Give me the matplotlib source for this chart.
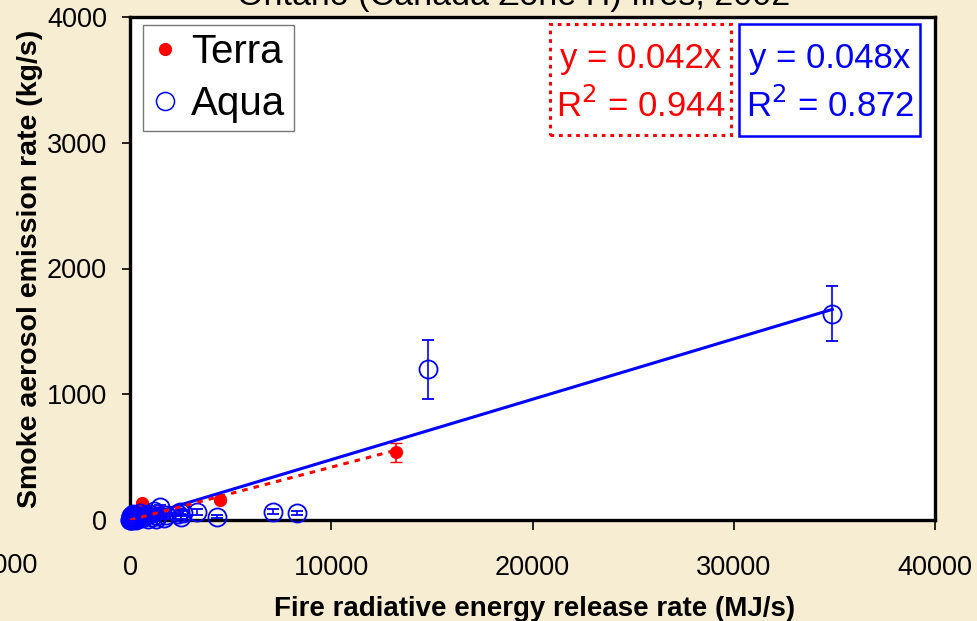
import numpy as np
import matplotlib
matplotlib.use("Agg")
import matplotlib.pyplot as plt
from matplotlib.lines import Line2D
from matplotlib.patches import Rectangle

plt.rcParams['font.family'] = ['Liberation Sans', 'DejaVu Sans']

# Terra retrievals: FRE rate (MJ/s), smoke emission rate (kg/s), error
terra_fre = [13200, 4470, 600, 1500, 1100, 900, 500, 300, 150, 80, 40, 700]
terra_rate = [540, 160, 135, 60, 40, 70, 25, 15, 50, 10, 5, 45]
terra_err = [75, 20, 15, 10, 10, 10, 8, 5, 10, 3, 2, 8]

# Aqua retrievals
aqua_fre = [34900, 14800, 8300, 7100, 4320, 3350, 2630, 2550, 2400, 1800,
            1500, 1350, 1200, 1000, 900, 700, 500, 350, 250, 150, 100, 60,
            40, 20, 10, 1300, 1100, 800, 600, 450, 300, 200, 120, 80, 30,
            2500, 1700, 50, 90, 140, 180, 220, 25, 70, 110, 160, 260, 330]
aqua_rate = [1640, 1200, 56, 64, 24, 64, 56, 20, 45, 40,
             103, 30, 70, 50, 10, 30, 55, 25, 15, 10, 5, 20,
             8, 3, 1, 5, 20, 40, 15, 35, 0, 30, 20, 0, 12,
             60, 15, 30, 15, 25, 5, 40, 20, 35, 0, 45, 8, 12]
aqua_err = [220, 235, 15, 20, 12, 25, 20, 15, 10, 10,
            20, 10, 15, 10, 10, 10, 10, 5, 5, 5, 5, 5,
            3, 2, 1, 5, 8, 10, 5, 8, 2, 6, 4, 2, 3,
            12, 6, 4, 3, 4, 2, 6, 3, 5, 2, 6, 2, 3]

# fitted slopes through the origin
terra_slope, terra_r2 = 0.042, 0.944
aqua_slope, aqua_r2 = 0.048, 0.872

W, H = 977, 621
fig = plt.figure(figsize=(W / 100, H / 100), dpi=100)
fig.patch.set_facecolor('#F7EDD3')

ax = fig.add_axes([130 / W, 1 - 520 / H, 805 / W, 503 / H])
ax.set_facecolor('white')

eb_t = ax.errorbar(terra_fre, terra_rate, yerr=terra_err, fmt='o', ms=8.5,
                   mfc='#FF0000', mec='#FF0000', ecolor='#FF0000',
                   elinewidth=1.2, capsize=4, zorder=3)
eb_a = ax.errorbar(aqua_fre, aqua_rate, yerr=aqua_err, fmt='o', ms=13,
                   mfc='none', mec='#0000FF', mew=1.3, ecolor='#0000FF',
                   elinewidth=1.2, capsize=4, zorder=4)
# markers near the origin spill over the axes
for eb in (eb_t, eb_a):
    for art in eb.get_children():
        art.set_clip_on(False)

xa = np.array([0, max(aqua_fre)])
ax.plot(xa, aqua_slope * xa, color='#0000FF', lw=2.2, zorder=5)
xt = np.array([0, max(terra_fre)])
ax.plot(xt, terra_slope * xt, color='#FF0000', lw=2.2, ls=(0, (1.8, 2.0)),
        zorder=5)

ax.set_xlim(0, 40000)
ax.set_ylim(0, 4000)
ax.set_xticks([0, 10000, 20000, 30000, 40000])
ax.set_yticks([0, 1000, 2000, 3000, 4000])
for s in ax.spines.values():
    s.set_linewidth(2.4)
    s.set_color('black')
    s.set_zorder(2.5)
ax.tick_params(axis='x', direction='out', length=7, width=1.2, pad=18,
               labelsize=19.5)
ax.tick_params(axis='y', direction='out', length=5.5, width=1.2, pad=11,
               labelsize=19.5)

fig.text(38 / W, 1 - 566 / H, '-10000', ha='right', va='center', fontsize=19.5)

ax.set_xlabel('Fire radiative energy release rate (MJ/s)', fontsize=20,
              fontweight='bold', va='baseline')
ax.xaxis.set_label_coords(0.503, -96 / 503)
ax.set_ylabel('Smoke aerosol emission rate (kg/s)', fontsize=20.5,
              fontweight='bold')
ax.yaxis.set_label_coords(-87 / 805, 0.5)

fig.text(514 / W, 1 - 5 / H, 'Ontario (Canada Zone H) fires, 2002',
         ha='center', va='baseline', fontsize=24.5)

handles = [
    Line2D([], [], ls='none', marker='o', ms=8.5, mfc='#FF0000', mec='#FF0000'),
    Line2D([], [], ls='none', marker='o', ms=13, mfc='none', mec='#0000FF',
           mew=1.1),
]
leg = ax.legend(handles, ['Terra', 'Aqua'], loc='upper left',
                bbox_to_anchor=(13 / 805, 1 - 8 / 503), borderaxespad=0,
                fontsize=29, frameon=True, fancybox=False, handlelength=0.7,
                handletextpad=0.3, borderpad=0.2, labelspacing=0.35)
leg.get_frame().set_edgecolor('#555555')
leg.get_frame().set_linewidth(1.0)
leg.set_zorder(6)

# equation boxes
fig.patches.append(Rectangle((550 / W, 1 - 135 / H), 181 / W, 111 / H,
                             transform=fig.transFigure, fill=False,
                             ec='#FF0000', lw=2.2, ls=(0, (1.2, 1.6))))
fig.patches.append(Rectangle((739 / W, 1 - 136 / H), 181 / W, 112 / H,
                             transform=fig.transFigure, fill=False,
                             ec='#0000FF', lw=1.8))
fig.text(641 / W, 1 - 68 / H, 'y = %.3fx' % terra_slope, color='#FF0000',
         ha='center', va='baseline', fontsize=25)
fig.text(641 / W, 1 - 117 / H, 'R$^2$ = %.3f' % terra_r2, color='#FF0000',
         ha='center', va='baseline', fontsize=25)
fig.text(830 / W, 1 - 68 / H, 'y = %.3fx' % aqua_slope, color='#0000FF',
         ha='center', va='baseline', fontsize=25)
fig.text(830 / W, 1 - 117 / H, 'R$^2$ = %.3f' % aqua_r2, color='#0000FF',
         ha='center', va='baseline', fontsize=25)

fig.savefig('out.png', dpi=100, facecolor=fig.get_facecolor())
